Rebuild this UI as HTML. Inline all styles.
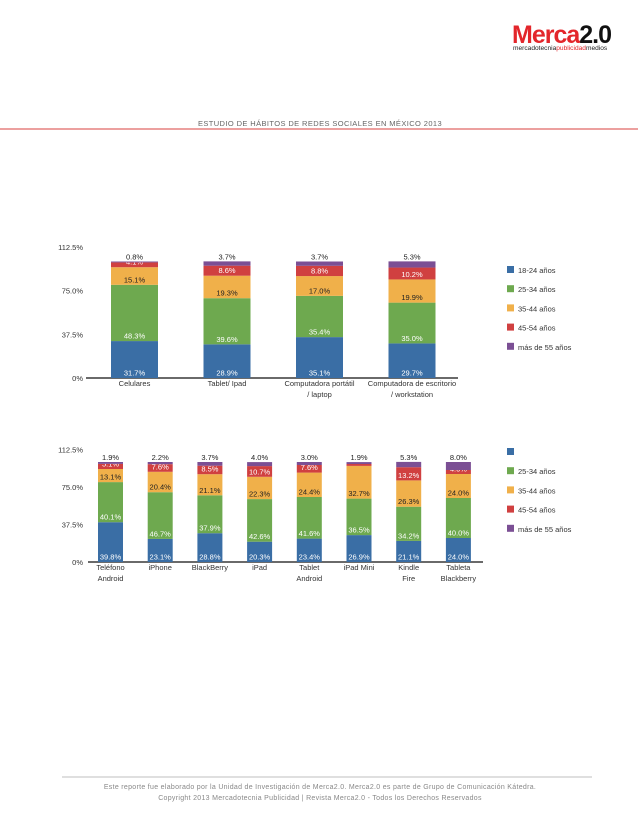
<!DOCTYPE html>
<html><head><meta charset="utf-8">
<style>
body{margin:0;width:638px;height:826px;background:#fff;overflow:hidden;font-family:"Liberation Sans",sans-serif}
svg{position:absolute;left:0;top:0}
</style></head>
<body>
<svg id="s" width="638" height="826" viewBox="0 0 638 826">
<g>
<text x="512" y="43" font-size="25" font-weight="bold" fill="#e3262b" letter-spacing="-1">Merca<tspan fill="#111">2.0</tspan></text>
<text x="513" y="50" font-size="6.6" fill="#222">mercadotecnia<tspan fill="#e3262b">publicidad</tspan>medios</text>
</g>
<text x="320" y="126" font-size="7.5" fill="#666" text-anchor="middle" letter-spacing="0.4">ESTUDIO DE HÁBITOS DE REDES SOCIALES EN MÉXICO 2013</text>
<line x1="0" y1="129" x2="638" y2="129" stroke="#d9423f" stroke-width="1"/>
<line x1="62" y1="777" x2="592" y2="777" stroke="#aaa" stroke-width="0.8"/>
<text x="320" y="789" font-size="7" fill="#888" text-anchor="middle" letter-spacing="0.3">Este reporte fue elaborado por la Unidad de Investigación de Merca2.0. Merca2.0 es parte de Grupo de Comunicación Kátedra.</text>
<text x="320" y="800" font-size="7" fill="#888" text-anchor="middle" letter-spacing="0.3">Copyright 2013 Mercadotecnia Publicidad | Revista Merca2.0 - Todos los Derechos Reservados</text>
<g id="c1"></g>
<g id="c2"></g>
</svg>
<script>
const seriesNames = ["18-24 años","25-34 años","35-44 años","45-54 años","más de 55 años"];
const colors = ["#3a6ea5","#6ea94f","#f0b04a","#d04040","#7b4f94"];
const yTicks = ["0%","37.5%","75.0%","112.5%"];
const yTickVals = [0,37.5,75,112.5];
const cats1 = [["Celulares"],["Tablet/ Ipad"],["Computadora portátil","/ laptop"],["Computadora de escritorio","/ workstation"]];
const s1_1824 = [31.7,28.9,35.1,29.7];
const s1_2534 = [48.3,39.6,35.4,35.0];
const s1_3544 = [15.1,19.3,17.0,19.9];
const s1_4554 = [4.1,8.6,8.8,10.2];
const s1_55 = [0.8,3.7,3.7,5.3];
const cats2 = [["Teléfono","Android"],["iPhone"],["BlackBerry"],["iPad"],["Tablet","Android"],["iPad Mini"],["Kindle","Fire"],["Tableta","Blackberry"]];
const s2_1824 = [39.8,23.1,28.8,20.3,23.4,26.9,21.1,24.0];
const s2_2534 = [40.1,46.7,37.9,42.6,41.6,36.5,34.2,40.0];
const s2_3544 = [13.1,20.4,21.1,22.3,24.4,32.7,26.3,24.0];
const s2_4554 = [5.1,7.6,8.5,10.7,7.6,1.9,13.2,4.0];
const s2_55 = [1.9,2.2,3.7,4.0,3.0,1.9,5.3,8.0];
const legend2 = ["","25-34 años","35-44 años","45-54 años","más de 55 años"];
const NS="http://www.w3.org/2000/svg";
function mk(p,t,a){const e=document.createElementNS(NS,t);for(const k in a)e.setAttribute(k,a[k]);p.appendChild(e);return e;}
function draw(g,o){
  const y=v=>o.y0-v*o.pxPer;
  const x=i=>o.x0+i*o.step;
  yTicks.forEach((t,i)=>{const e=mk(g,"text",{x:o.tickX,y:y(yTickVals[i])+3,"font-size":7.5,fill:"#333","text-anchor":"end"});e.textContent=t;
    
    });
  const ax=mk(g,"line",{x1:o.axX1,x2:o.axX2,y1:o.y0,y2:o.y0,stroke:"#111","stroke-width":1.2});
  
  
  o.cats.forEach((c,i)=>{
    let cum=0;
    o.series.forEach((arr,k)=>{
      const v=arr[i];
      const r=mk(g,"rect",{x:x(i),y:y(cum+v),width:o.bw,height:v*o.pxPer,fill:colors[k]});
      
      
      const ly = k===4 ? y(cum+v)-2 : y(cum)-2.5;
      const col = (k===2||k===4)?"#222":"#fff";
      const tx=mk(g,"text",{x:x(i)+o.bw/2,y:ly,"font-size":o.fs,fill:col,"text-anchor":"middle"});
      tx.textContent=v.toFixed(1)+"%";
      
      
      cum+=v;
    });
    c.forEach((ln,j)=>{const t=mk(g,"text",{x:x(i)+o.bw/2+(o.catOff||0),y:o.y0+8+j*11,"font-size":7.5,fill:"#333","text-anchor":"middle"});t.textContent=ln;
      
      });
  });
  o.legend.forEach((n,k)=>{
    const r=mk(g,"rect",{x:507,y:o.legY+k*19.2-7,width:7,height:7,fill:colors[k]});
    
    
    const t=mk(g,"text",{x:518,y:o.legY+k*19.2,"font-size":7.5,fill:"#333"});t.textContent=n;
    
    
  });
}
draw(document.getElementById("c1"),{cats:cats1,series:[s1_1824,s1_2534,s1_3544,s1_4554,s1_55],y0:378,pxPer:1.165,x0:111,step:92.5,bw:47,tickX:83,axX1:86,axX2:458,fs:7.5,legend:seriesNames,legY:273,catOff:0});
draw(document.getElementById("c2"),{cats:cats2,series:[s2_1824,s2_2534,s2_3544,s2_4554,s2_55],y0:562,pxPer:1.0,x0:98,step:49.7,bw:25,tickX:83,axX1:88,axX2:483,fs:7.5,legend:legend2,legY:455,catOff:0});
</script>
</body></html>
